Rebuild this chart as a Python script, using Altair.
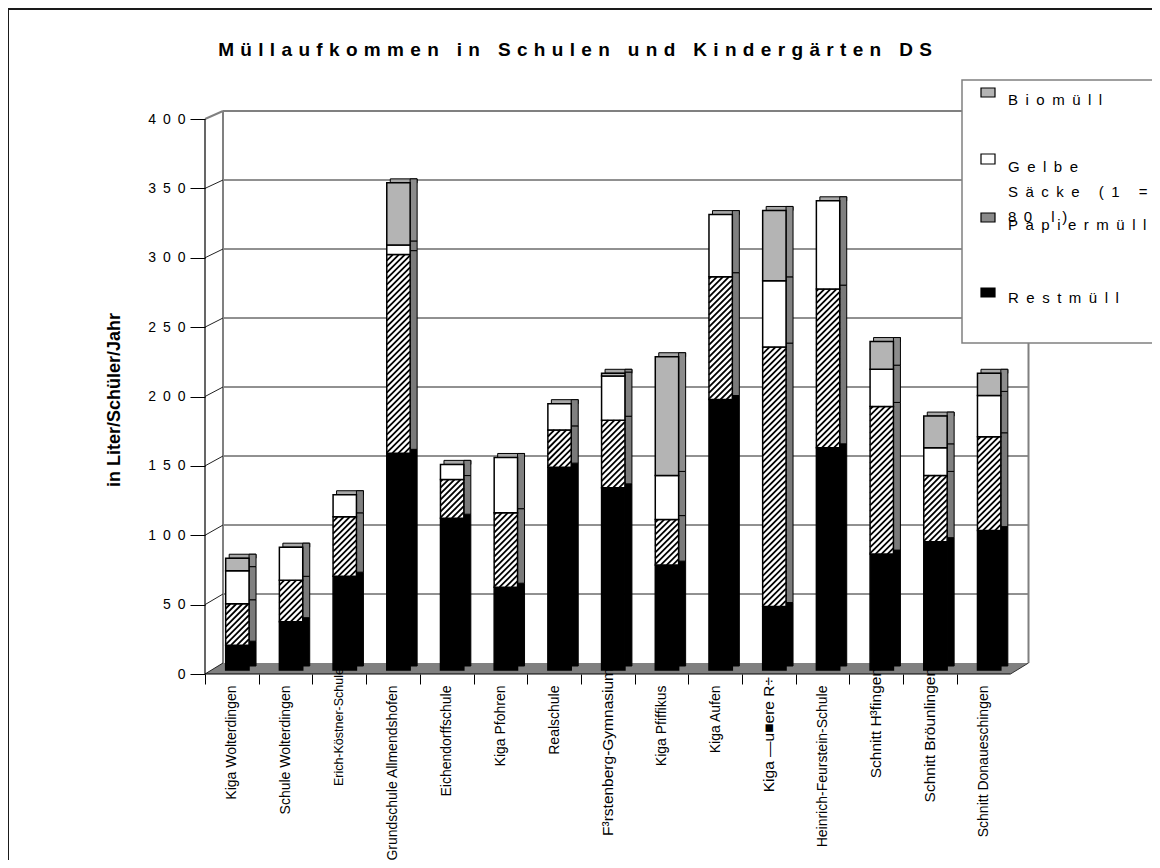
import json
import altair as alt
import pandas as pd

# ---------------- data ----------------
categories = [
    "Kiga Wolterdingen", "Schule Wolterdingen", "Erich-Köstner-Schule",
    "Grundschule Allmendshofen", "Eichendorffschule", "Kiga Pfohren",
    "Realschule", "F³rstenberg-Gymnasium", "Kiga Pfiffikus", "Kiga Aufen",
    "Kiga —u■ere R÷", "Heinrich-Feurstein-Schule", "Schnitt H³fingen",
    "Schnitt Bröunlingen", "Schnitt Donaueschingen",
]
restmuell = [18, 35, 68, 157, 110, 60, 147, 132, 76, 196, 46, 161, 84, 93, 101]
papiermuell = [30, 30, 43, 144, 28, 54, 27, 49, 33, 89, 188, 115, 107, 48, 68]
gelbe_saecke = [24, 24, 16, 7, 11, 40, 19, 32, 32, 45, 48, 64, 27, 20, 30]
biomuell = [9, 0, 0, 45, 0, 0, 0, 2, 86, 0, 51, 0, 20, 23, 16]
series_names = ["Restmüll", "Papiermüll", "Gelbe Säcke (1 = 80 l)", "Biomüll"]
y_ticks = [0, 50, 100, 150, 200, 250, 300, 350, 400]
title_text = "Müllaufkommen in Schulen und Kindergärten DS"
y_title = "in Liter/Schüler/Jahr"
regular_big_idx = [7, 12, 13]
regular_low_idx = [10]
regular_small_idx = [2]

# ---------------- styles / geometry ----------------
front_colors = ["#000000", "#ffffff", "#ffffff", "#b4b4b4"]
side_colors = ["#000000", "#7a7a7a", "#808080", "#8c8c8c"]
legend_colors = ["#b4b4b4", "#ffffff", "#8a8a8a", "#000000"]  # Bio, Gelbe, Papier, Rest

UX = 53.7      # px per category
K = 1.38       # px per unit (back wall / bars)
KF = 1.3875    # px per unit (front axis)
PW, PH = 824, 563
X_MIN = -0.5
X_MAX = X_MIN + PW / UX
BACK_DX = 18 / UX
XB_L = X_MIN + BACK_DX
XB_R = X_MIN + 15 + BACK_DX
X_FRONT_R = 14.5
Y_MIN = -11 / K
Y_MAX = 400
BAR_L, BAR_R = -0.115, 0.32
SIDE = 7 / UX
BAR_DY = 7
RISE = 4
SERIF = "Liberation Sans, Arial, sans-serif"

xs = alt.Scale(domain=[X_MIN, X_MAX], nice=False, zero=False)
ys = alt.Scale(domain=[Y_MIN, Y_MAX], nice=False, zero=False)
fs = alt.Scale(domain=[0, PH / KF], nice=False, zero=False)


def X(f, axis=None):
    return alt.X(f, type="quantitative", scale=xs, axis=axis)


def Y(f, scale=ys, axis=None):
    return alt.Y(f, type="quantitative", scale=scale, axis=axis)


def spaced(s, sep):
    return sep.join(s)


one = pd.DataFrame({"a": [0]})
layers = []

# outer frame
layers.append(
    alt.Chart(one).mark_rect(fill="white", fillOpacity=0, stroke="#1a1a1a", strokeWidth=2)
    .encode(x=alt.value(-197), x2=alt.value(975), y=alt.value(-102), y2=alt.value(780))
)

# back wall gridlines
grid_df = pd.DataFrame({"v": [v for v in y_ticks if 0 < v < 400]})
grid_df["xa"] = XB_L
grid_df["xb"] = XB_R
layers.append(
    alt.Chart(grid_df).mark_rule(color="#222222", strokeWidth=1)
    .encode(x=X("xa"), x2="xb", y=Y("v"))
)
top_df = pd.DataFrame({"v": [400], "xa": [XB_L], "xb": [XB_R]})
layers.append(
    alt.Chart(top_df).mark_rule(color="#808080", strokeWidth=2)
    .encode(x=X("xa"), x2="xb", y=Y("v"))
)
walls = pd.DataFrame({"x": [XB_L, XB_R], "y0": [0, 0], "y1": [400, 400]})
layers.append(
    alt.Chart(walls).mark_rule(color="#808080", strokeWidth=2)
    .encode(x=X("x"), y=Y("y0"), y2="y1")
)

# floor
floor = pd.DataFrame({
    "x": [X_MIN, XB_L, X_FRONT_R, XB_R],
    "top": [Y_MIN, 0, 0, 0],
    "bot": [Y_MIN, Y_MIN, Y_MIN, 0],
})
layers.append(
    alt.Chart(floor).mark_area(color="#808080", opacity=1)
    .encode(x=X("x"), y=Y("top"), y2="bot")
)

# connectors between front axis ticks and back wall
conn = pd.DataFrame({"v": y_ticks})
conn["ya"] = (KF * conn["v"] - 11) / K
conn["xa"] = X_MIN
conn["xb"] = XB_L
layers.append(
    alt.Chart(conn[conn["v"] < 400]).mark_rule(color="#222222", strokeWidth=1)
    .encode(x=X("xa"), x2="xb", y=Y("ya"), y2="v")
)
layers.append(
    alt.Chart(conn[conn["v"] == 400]).mark_rule(color="#808080", strokeWidth=2)
    .encode(x=X("xa"), x2="xb", y=Y("ya"), y2="v")
)

# ---------------- bars ----------------
seg_rows, top_rows, hatch_rows = [], [], []
all_series = [restmuell, papiermuell, gelbe_saecke, biomuell]
for i in range(len(categories)):
    cum = 0
    for sname, vals in zip(series_names, all_series):
        v = vals[i]
        if v > 0:
            seg_rows.append({"cat": categories[i], "series": sname, "y0": cum, "y1": cum + v,
                             "xl": i + BAR_L, "xr": i + BAR_R, "xs": i + BAR_R + SIDE})
            if sname == "Papiermüll":
                wpx = (BAR_R - BAR_L) * UX
                y0p, y1p = cum * K, (cum + v) * K
                c = y0p - wpx
                while c < y1p:
                    t0 = max(0.0, y0p - c)
                    t1 = min(wpx, y1p - c)
                    if t1 - t0 > 0.6:
                        hatch_rows.append({"xa": i + BAR_L + t0 / UX, "xb": i + BAR_L + t1 / UX,
                                           "ya": (c + t0) / K, "yb": (c + t1) / K})
                    c += 6.0
        cum += v
    top_rows.append({"xa": i + BAR_L + 3.5 / UX, "xb": i + BAR_R + SIDE,
                     "ya": cum, "yb": cum + RISE / K})

seg = pd.DataFrame(seg_rows)
tops = pd.DataFrame(top_rows)
hatch = pd.DataFrame(hatch_rows)

layers.append(
    alt.Chart(tops).mark_rect(fill="#a8a8a8", stroke="black", strokeWidth=1,
                              yOffset=BAR_DY, y2Offset=BAR_DY)
    .encode(x=X("xa"), x2="xb", y=Y("ya"), y2="yb")
)
layers.append(
    alt.Chart(seg).mark_rect(stroke="black", strokeWidth=1,
                             yOffset=BAR_DY - RISE, y2Offset=BAR_DY - RISE)
    .encode(x=X("xr"), x2="xs", y=Y("y0"), y2="y1",
            fill=alt.Fill("series:N", scale=alt.Scale(domain=series_names, range=side_colors), legend=None))
)
layers.append(
    alt.Chart(seg).mark_rect(stroke="black", strokeWidth=1.5, yOffset=BAR_DY, y2Offset=BAR_DY)
    .encode(x=X("xl"), x2="xr", y=Y("y0"), y2="y1",
            fill=alt.Fill("series:N", scale=alt.Scale(domain=series_names, range=front_colors), legend=None))
)
layers.append(
    alt.Chart(hatch).mark_rule(color="black", strokeWidth=1.8, yOffset=BAR_DY, y2Offset=BAR_DY)
    .encode(x=X("xa"), x2="xb", y=Y("ya"), y2="yb")
)

# ---------------- front axes ----------------
y_axis = alt.Axis(
    orient="left", values=y_ticks, tickSize=15, tickColor="black", tickWidth=1,
    domain=False, grid=False, labelFont=SERIF, labelFontSize=14, labelColor="black",
    labelPadding=5, labelExpr="join(split(datum.label, ''), '\u2002')", title=None,
)
front_axis = pd.DataFrame({"x": [X_MIN], "y0": [0], "y1": [400]})
layers.append(
    alt.Chart(front_axis).mark_rule(color="black", strokeWidth=1.2)
    .encode(x=X("x"), y=Y("y0", scale=fs, axis=y_axis), y2="y1")
)

regular_all = regular_big_idx + regular_low_idx + regular_small_idx
label_expr = ("datum.value < 15 && indexof(" + json.dumps(regular_all) + ", datum.value) < 0 ? "
              + json.dumps(categories, ensure_ascii=False) + "[datum.value] : ''")
x_axis = alt.Axis(
    orient="bottom", values=list(range(16)), tickOffset=-UX / 2, labelOffset=UX / 2, tickSize=10,
    tickColor="black", tickWidth=1, domain=False, grid=False, labelAngle=270,
    labelAlign="right", labelBaseline="middle", labelExpr=label_expr,
    labelFont=SERIF, labelFontSize=14, labelPadding=1,
    labelColor="black", labelOverlap=False, labelFlush=False, labelLimit=0, title=None,
)
xline = pd.DataFrame({"xa": [X_MIN], "xb": [X_FRONT_R], "y": [Y_MIN]})
layers.append(
    alt.Chart(xline).mark_rule(color="black", strokeWidth=1.2)
    .encode(x=X("xa", axis=x_axis), x2="xb", y=Y("y"))
)
rdiag = pd.DataFrame({"xa": [X_FRONT_R], "xb": [XB_R], "ya": [Y_MIN], "yb": [0]})
layers.append(
    alt.Chart(rdiag).mark_rule(color="#333333", strokeWidth=1)
    .encode(x=X("xa"), x2="xb", y=Y("ya"), y2="yb")
)

# category labels drawn in the regular (non-condensed) face, as in the reference
cat_df = pd.DataFrame({"idx": list(range(len(categories))), "cat": categories})
for idx_list, fsize, ytop in [(regular_big_idx, 15.5, 557), (regular_low_idx, 15.5, 566),
                              (regular_small_idx, 12.5, 557)]:
    layers.append(
        alt.Chart(cat_df[cat_df["idx"].isin(idx_list)])
        .mark_text(font=SERIF, fontSize=fsize, angle=270, align="right", baseline="middle",
                   color="black")
        .encode(x=X("idx"), y=alt.value(ytop), text="cat:N")
    )

# ---------------- titles ----------------
layers.append(
    alt.Chart(one).mark_text(text=spaced(title_text, "\u2004"), font=SERIF, fontSize=19,
                             fontWeight="bold", align="center", baseline="middle", color="black")
    .encode(x=alt.value(370), y=alt.value(-61))
)
layers.append(
    alt.Chart(one).mark_text(text=y_title, font=SERIF, fontSize=18, fontWeight="bold",
                             angle=270, align="center", baseline="middle", color="black")
    .encode(x=alt.value(-90), y=alt.value(289))
)

# ---------------- legend ----------------
layers.append(
    alt.Chart(one).mark_rect(fill="white", stroke="#808080", strokeWidth=1.5)
    .encode(x=alt.value(757), x2=alt.value(975), y=alt.value(-31), y2=alt.value(232))
)
legend_order = ["Biomüll", "Gelbe Säcke (1 = 80 l)", "Papiermüll", "Restmüll"]
sym_y = [(-23, -14), (43, 53), (102, 111), (177, 186)]
txt_y = [-6, 61, 119, 192]
for name, col, (ya, yb), ty in zip(legend_order, legend_colors, sym_y, txt_y):
    layers.append(
        alt.Chart(one).mark_rect(fill=col, stroke="black", strokeWidth=1.2)
        .encode(x=alt.value(776), x2=alt.value(790), y=alt.value(ya), y2=alt.value(yb))
    )
    if name.startswith("Gelbe"):
        words = name.split(" ")
        lines = [words[0], " ".join(words[1:4]), " ".join(words[4:])]
        txt = "\n".join(spaced(l, "\u2002") for l in lines)
        layers.append(
            alt.Chart(one).mark_text(text=txt, lineBreak="\n", lineHeight=25, font=SERIF,
                                     fontSize=15, align="left", baseline="alphabetic", color="black")
            .encode(x=alt.value(803), y=alt.value(ty))
        )
    else:
        layers.append(
            alt.Chart(one).mark_text(text=spaced(name, "\u2002"), font=SERIF, fontSize=15,
                                     align="left", baseline="alphabetic", color="black")
            .encode(x=alt.value(803), y=alt.value(ty))
        )

chart = (
    alt.layer(*layers)
    .resolve_scale(y="independent", fill="independent")
    .resolve_axis(x="independent")
    .properties(
        width=PW, height=PH,
        padding={"left": 197, "top": 103, "right": 123, "bottom": 186},
        autosize=alt.AutoSizeParams(type="none"),
    )
    .configure_view(strokeWidth=0)
)

chart.save("out.html", embed_options={"renderer": "svg", "actions": False})
